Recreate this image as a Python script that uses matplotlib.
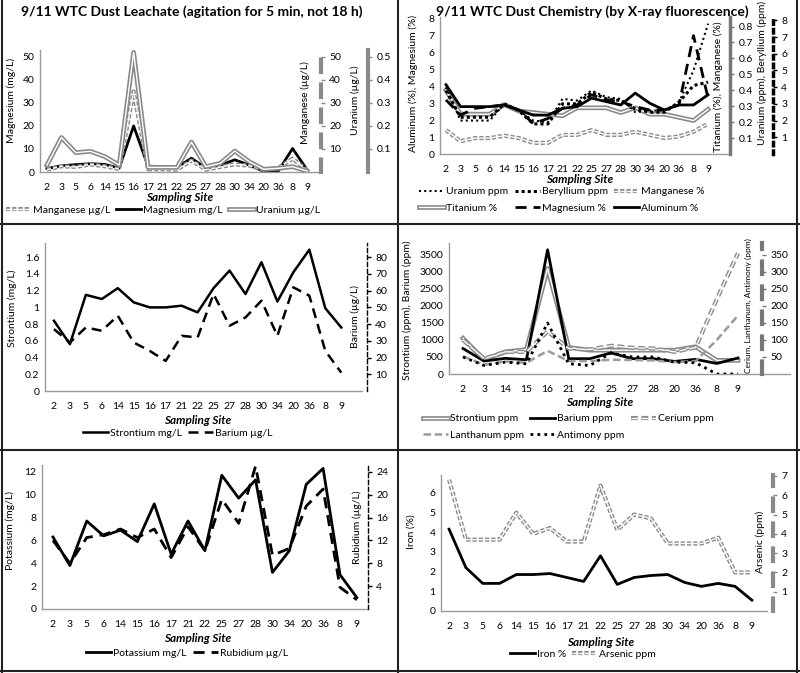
import matplotlib
matplotlib.use("Agg")
import matplotlib.pyplot as plt
import matplotlib.patheffects as pe
from matplotlib.lines import Line2D

plt.rcParams['font.family'] = ['Lato', 'DejaVu Sans']

W, H = 800, 673

# ---- data ----
sites_a = [2, 3, 5, 6, 14, 15, 16, 17, 21, 22, 25, 27, 28, 30, 34, 20, 36, 8, 9]
sites_b = [2, 3, 14, 15, 16, 21, 22, 25, 27, 28, 20, 36, 8, 9]

# leachate (top left)
lea_manganese = [1.0, 2.5, 2.2, 3.3, 2.5, 1.3, 35, 1.2, 1.2, 1.0, 5.0, 1.0, 2.2, 3.3, 2.8, 1.0, 1.7, 5.8, 0.8]
lea_magnesium = [1.5, 2.7, 3.2, 3.6, 3.3, 1.7, 20, 2.5, 2.4, 2.0, 6.0, 1.7, 3.0, 5.3, 3.0, 0.3, 0.3, 10.2, 1.0]
lea_uranium = [0.03, 0.15, 0.084, 0.09, 0.067, 0.03, 0.52, 0.02, 0.02, 0.02, 0.13, 0.023, 0.038, 0.091,
               0.045, 0.012, 0.016, 0.023, 0.004]

# XRF (top right)
xrf_uranium = [4.0, 2.0, 2.0, 2.0, 3.0, 2.6, 2.0, 1.9, 3.3, 3.2, 3.8, 3.4, 3.3, 2.5, 2.6, 2.6, 3.1, 5.0, 7.8]
xrf_beryllium = [3.8, 2.2, 2.2, 2.2, 3.0, 2.6, 1.8, 1.8, 3.0, 3.0, 3.7, 3.3, 3.2, 2.7, 2.5, 2.5, 3.1, 4.1, 4.3]
xrf_manganese = [0.15, 0.08, 0.10, 0.10, 0.115, 0.10, 0.07, 0.07, 0.12, 0.12, 0.15, 0.12, 0.12, 0.14, 0.12,
                 0.10, 0.11, 0.14, 0.19]
xrf_titanium = [0.40, 0.25, 0.25, 0.25, 0.31, 0.27, 0.26, 0.25, 0.24, 0.29, 0.29, 0.29, 0.26, 0.29, 0.25,
                0.25, 0.23, 0.21, 0.28]
xrf_magnesium = [3.2, 2.3, 2.7, 2.8, 2.9, 2.6, 1.8, 2.1, 2.7, 2.9, 3.5, 3.2, 3.1, 2.8, 2.6, 2.6, 2.9, 7.0, 3.3]
xrf_aluminum = [4.1, 2.8, 2.8, 2.8, 2.9, 2.6, 2.3, 2.3, 2.7, 2.8, 3.3, 3.1, 2.9, 3.6, 3.0, 2.6, 2.9, 2.9, 3.5]

# leachate (middle left)
lea_strontium = [0.84, 0.56, 1.15, 1.10, 1.23, 1.06, 1.0, 1.0, 1.02, 0.94, 1.23, 1.44, 1.16, 1.54, 1.07,
                 1.42, 1.69, 0.99, 0.76]
lea_barium = [37, 29, 38, 36, 45, 29, 24, 18, 33, 32, 58, 39, 44, 54, 33, 62, 57, 24, 11]

# XRF (middle right)
xrf_strontium = [1050, 420, 650, 720, 3100, 780, 700, 700, 700, 700, 700, 800, 400, 400]
xrf_barium = [750, 380, 460, 420, 3650, 450, 450, 620, 450, 450, 370, 430, 310, 470]
xrf_cerium = [100, 45, 65, 65, 125, 75, 72, 83, 77, 75, 65, 78, 220, 355]
xrf_lanthanum = [52, 27, 37, 33, 68, 38, 38, 42, 41, 40, 35, 38, 100, 172]
xrf_antimony = [50, 25, 35, 30, 150, 30, 25, 62, 50, 50, 35, 33, 0, 0]

# leachate (bottom left)
lea_potassium = [6.3, 3.8, 7.7, 6.4, 6.9, 5.9, 9.2, 4.8, 7.7, 5.1, 11.7, 9.7, 11.3, 3.2, 5.1, 10.9, 12.3, 3.0, 1.0]
lea_rubidium = [12, 8, 12.5, 13, 14, 12.5, 14, 9, 14.4, 10.2, 19.2, 15, 25, 9.4, 10.6, 18, 21, 3.8, 1.6]

# XRF (bottom right)
xrf_iron = [4.15, 2.2, 1.4, 1.4, 1.85, 1.85, 1.9, 1.7, 1.5, 2.8, 1.35, 1.7, 1.8, 1.85, 1.45, 1.25, 1.4, 1.25, 0.55]
xrf_arsenic = [6.8, 3.7, 3.7, 3.7, 5.1, 4.0, 4.3, 3.6, 3.6, 6.5, 4.2, 5.0, 4.8, 3.5, 3.5, 3.5, 3.8, 2.0, 2.0]

FS = 7.5
GRAY = '#8a8a8a'
double = [pe.Stroke(linewidth=3.4, foreground=GRAY), pe.Normal()]
hollow = [pe.Stroke(linewidth=3.0, foreground=GRAY), pe.Normal()]


def box(x0, y0, x1, y1):
    return [x0 / W, 1 - y1 / H, (x1 - x0) / W, (y1 - y0) / H]


def base(rect, sites, xlim, ylim, yticks, ylabels=None):
    ax = fig.add_axes(box(*rect))
    ax.set_xlim(xlim)
    ax.set_ylim(ylim)
    ax.set_xticks(range(len(sites)), [str(s) for s in sites])
    ax.set_yticks(yticks, ylabels if ylabels else [f"{t:g}" for t in yticks])
    for s in ['top', 'right']:
        ax.spines[s].set_visible(False)
    for s in ['left', 'bottom']:
        ax.spines[s].set_color('#9a9a9a')
        ax.spines[s].set_linewidth(1.0)
    ax.tick_params(axis='x', length=0, labelsize=FS, pad=8)
    ax.tick_params(axis='y', length=0, labelsize=FS, pad=4)
    return ax


def right(ax, frac, ylim, yticks, color, ls, lw):
    a = ax.twinx()
    a.set_ylim(ylim)
    a.set_yticks(yticks, [f"{t:g}" for t in yticks])
    for s in ['top', 'left', 'bottom']:
        a.spines[s].set_visible(False)
    sp = a.spines['right']
    sp.set_position(('axes', frac))
    sp.set_color(color)
    sp.set_linestyle(ls)
    sp.set_linewidth(lw)
    a.tick_params(axis='y', length=3, width=1, color=color, labelsize=FS, pad=3)
    return a


def lab(x, y, s, size=FS):
    fig.text(x / W, 1 - y / H, s, rotation=90, ha='center', va='center', fontsize=size)


def xlab(x, y):
    fig.text(x / W, 1 - y / H, 'Sampling Site', ha='center', va='center', fontsize=8.5,
             fontweight='bold', fontstyle='italic')


def leg(ax, handles, x, y, ncol):
    ax.legend(handles=handles, loc='center', bbox_to_anchor=(x / W, 1 - y / H),
              bbox_transform=fig.transFigure, ncol=ncol, frameon=False, fontsize=FS,
              handlelength=2.4, handletextpad=0.2, columnspacing=0.6, borderpad=0,
              labelspacing=0.7)


fig = plt.figure(figsize=(8, 6.73), dpi=100)

xa = range(len(sites_a))
xb = range(len(sites_b))

# ---------- top left ----------
ax = base((40, 50, 318, 172), sites_a, (-0.48, 18.76), (0, 53), [0, 10, 20, 30, 40, 50])
a2 = right(ax, 1.01, (0, 53), [10, 20, 30, 40, 50], GRAY, (0, (3, 3)), 3)
a3 = right(ax, 1.18, (0, 0.53), [0.1, 0.2, 0.3, 0.4, 0.5], GRAY, '-', 3)
h1, = a2.plot(xa, lea_manganese, color='white', lw=1.0, ls=(0, (3, 1.5)), path_effects=hollow,
              label='Manganese µg/L')
h2, = ax.plot(xa, lea_magnesium, color='black', lw=2, label='Magnesium mg/L')
h3, = a3.plot(xa, lea_uranium, color='white', lw=1.0, path_effects=double, label='Uranium µg/L')
fig.text(192 / W, 1 - 12 / H, '9/11 WTC Dust Leachate (agitation for 5 min, not 18 h)',
         ha='center', va='center', fontsize=10, fontweight='bold')
lab(11, 100, 'Magnesium (mg/L)')
lab(305, 103, 'Manganese (µg/L)')
lab(355, 100, 'Uranium (µg/L)')
xlab(180, 197)
leg(ax, [h1, h2, h3], 163, 210, 3)

# ---------- top right ----------
ax = base((440, 17, 728, 154), sites_a, (-0.41, 19.37), (0, 8.1), list(range(9)))
a2 = right(ax, 1.007, (0, 0.86), [0.1, 0.2, 0.3, 0.4, 0.5, 0.6, 0.7, 0.8], '#777777', '-', 2.5)
a3 = right(ax, 1.156, (0, 8.2), list(range(1, 9)), 'black', (0, (1, 1.5)), 2.5)
u, = a3.plot(xa, xrf_uranium, color='black', lw=1.5, ls=(0, (1, 1.5)), label='Uranium ppm')
b, = a3.plot(xa, xrf_beryllium, color='black', lw=2.2, ls=(0, (1, 1)), label='Beryllium ppm')
m, = a2.plot(xa, xrf_manganese, color='white', lw=1.0, ls=(0, (3, 1.5)), path_effects=hollow,
             label='Manganese %')
t, = a2.plot(xa, xrf_titanium, color='white', lw=1.0, path_effects=double, label='Titanium %')
g, = ax.plot(xa, xrf_magnesium, color='black', lw=2, ls=(0, (4, 2.5)), label='Magnesium %')
al, = ax.plot(xa, xrf_aluminum, color='black', lw=2, label='Aluminum %')
ax.set_zorder(a3.get_zorder() + 1)
ax.patch.set_visible(False)
fig.text(592 / W, 1 - 12 / H, '9/11 WTC Dust Chemistry (by X-ray fluorescence)',
         ha='center', va='center', fontsize=10, fontweight='bold')
lab(413, 83, 'Aluminum (%), Magnesium (%)')
lab(718, 87, 'Titanium (%), Manganese (%)')
lab(762, 73, 'Uranium (ppm), Beryllium (ppm)')
xlab(580, 180)
leg(ax, [u, t, b, g, m, al], 562, 200, 3)

# ---------- middle left ----------
ax = base((45, 243, 362, 391), sites_a, (-0.56, 19.3), (0, 1.77),
          [0, 0.2, 0.4, 0.6, 0.8, 1.0, 1.2, 1.4, 1.6], ['0', '0.2', '0.4', '0.6', '0.8', '1', '1.2', '1.4', '1.6'])
a2 = right(ax, 1.016, (0, 88.5), [10, 20, 30, 40, 50, 60, 70, 80], 'black', (0, (3, 2)), 1.0)
s1, = ax.plot(xa, lea_strontium, color='black', lw=1.8, label='Strontium mg/L')
s2, = a2.plot(xa, lea_barium, color='black', lw=1.8, ls=(0, (4, 2.5)), label='Barium µg/L')
lab(12, 308, 'Strontium (mg/L)')
lab(355, 317, 'Barium (µg/L)')
xlab(198, 420)
leg(ax, [s1, s2], 178, 433, 2)

# ---------- middle right ----------
ax = base((449, 243, 790, 374), sites_b, (-0.66, 15.46), (0, 3850), list(range(0, 3501, 500)))
a2 = right(ax, 0.918, (0, 385), [50, 100, 150, 200, 250, 300, 350], '#777777', (0, (3, 3)), 3)
sr, = ax.plot(xb, xrf_strontium, color='white', lw=1.0, path_effects=double, label='Strontium ppm')
ba, = ax.plot(xb, xrf_barium, color='black', lw=2, label='Barium ppm')
ce, = a2.plot(xb, xrf_cerium, color='white', lw=1.0, ls=(0, (5, 2.5)), path_effects=hollow,
              label='Cerium ppm')
la, = a2.plot(xb, xrf_lanthanum, color='#9a9a9a', lw=1.8, ls=(0, (3, 1.5)), label='Lanthanum ppm')
sb, = a2.plot(xb, xrf_antimony, color='black', lw=2, ls=(0, (1, 1.5)), label='Antimony ppm')
lab(407, 310, 'Strontium (ppm), Barium (ppm)')
lab(748, 306, 'Cerium, Lanthanum, Antimony (ppm)', size=6)
xlab(600, 403)
leg(ax, [sr, la, ba, sb, ce], 568, 427, 3)

# ---------- bottom left ----------
ax = base((42, 465, 367, 609), sites_a, (-0.65, 18.6), (0, 12.6), [0, 2, 4, 6, 8, 10, 12])
a2 = right(ax, 1.003, (0, 25.2), [4, 8, 12, 16, 20, 24], 'black', (0, (3, 2)), 1.0)
k, = ax.plot(xa, lea_potassium, color='black', lw=2, label='Potassium mg/L')
rb, = a2.plot(xa, lea_rubidium, color='black', lw=2, ls=(0, (4, 2.5)), label='Rubidium µg/L')
lab(10, 530, 'Potassium (mg/L)')
lab(357, 527, 'Rubidium (µg/L)')
xlab(198, 639)
leg(ax, [k, rb], 187, 653, 2)

# ---------- bottom right ----------
ax = base((441, 475, 767, 611), sites_a, (-0.48, 18.9), (0, 6.9), [0, 1, 2, 3, 4, 5, 6])
a2 = right(ax, 1.018, (0, 7.05), [1, 2, 3, 4, 5, 6, 7], GRAY, (0, (3, 3)), 3)
fe, = ax.plot(xa, xrf_iron, color='black', lw=2, label='Iron %')
ar, = a2.plot(xa, xrf_arsenic, color='white', lw=1.0, ls=(0, (3, 1.5)), path_effects=hollow,
              label='Arsenic ppm')
lab(411, 532, 'Iron (%)')
lab(760, 542, 'Arsenic (ppm)')
xlab(601, 642)
leg(ax, [fe, ar], 583, 654, 2)

# panel frame lines
for xs, ys in [((398, 398), (0, 673)), ((0, 800), (224, 224)), ((0, 800), (450, 450)),
               ((2, 2), (0, 673)), ((797, 797), (0, 673)), ((0, 800), (671, 671))]:
    fig.add_artist(Line2D([x / W for x in xs], [1 - y / H for y in ys], color='#222222', lw=1.5))

fig.savefig('out.png', dpi=100)
